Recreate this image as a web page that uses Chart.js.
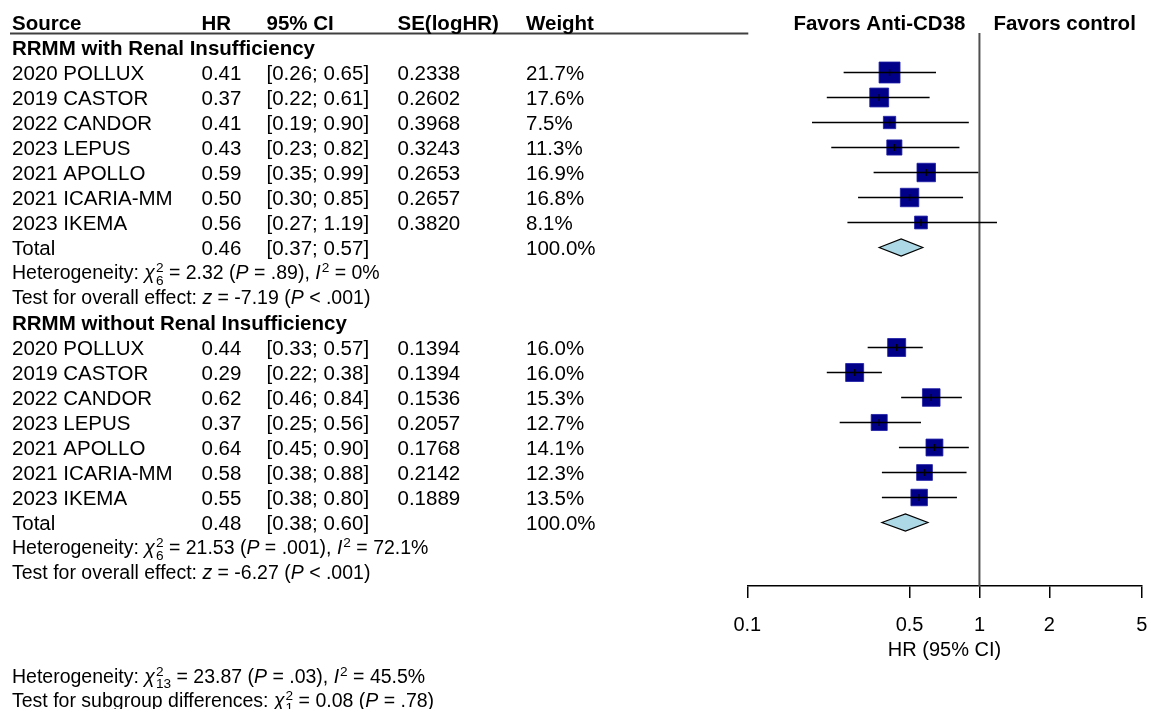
<!DOCTYPE html>
<html>
<head>
<meta charset="utf-8">
<style>
  html, body { margin: 0; padding: 0; background: #ffffff; }
  canvas { display: block; }
</style>
<script src="https://cdn.jsdelivr.net/npm/chart.js"></script>
</head>
<body>
<canvas id="c" width="1149" height="709"></canvas>
<script>
// ---------------- DATA ----------------
const columnHeaders = ['Source', 'HR', '95% CI', 'SE(logHR)', 'Weight'];
const favorLabels = ['Favors Anti-CD38', 'Favors control'];
const groupLabels = ['RRMM with Renal Insufficiency', 'RRMM without Renal Insufficiency'];
const studyNames = ['2020 POLLUX', '2019 CASTOR', '2022 CANDOR', '2023 LEPUS', '2021 APOLLO', '2021 ICARIA-MM', '2023 IKEMA'];

const hrRenal = [0.41, 0.37, 0.41, 0.43, 0.59, 0.50, 0.56];
const loRenal = [0.26, 0.22, 0.19, 0.23, 0.35, 0.30, 0.27];
const hiRenal = [0.65, 0.61, 0.90, 0.82, 0.99, 0.85, 1.19];
const seRenal = [0.2338, 0.2602, 0.3968, 0.3243, 0.2653, 0.2657, 0.3820];
const wRenal  = [21.7, 17.6, 7.5, 11.3, 16.9, 16.8, 8.1];

const hrNoRenal = [0.44, 0.29, 0.62, 0.37, 0.64, 0.58, 0.55];
const loNoRenal = [0.33, 0.22, 0.46, 0.25, 0.45, 0.38, 0.38];
const hiNoRenal = [0.57, 0.38, 0.84, 0.56, 0.90, 0.88, 0.80];
const seNoRenal = [0.1394, 0.1394, 0.1536, 0.2057, 0.1768, 0.2142, 0.1889];
const wNoRenal  = [16.0, 16.0, 15.3, 12.7, 14.1, 12.3, 13.5];

const totalHR = [0.46, 0.48];
const totalLo = [0.37, 0.38];
const totalHi = [0.57, 0.60];
const totalWeight = ['100.0%', '100.0%'];

const hetChi2 = ['2.32', '21.53'];
const hetDf = ['6', '6'];
const hetP = ['.89', '.001'];
const hetI2 = ['0%', '72.1%'];
const zStat = ['-7.19', '-6.27'];
const zP = ['< .001', '< .001'];

const overallChi2 = '23.87', overallDf = '13', overallP = '.03', overallI2 = '45.5%';
const subgroupChi2 = '0.08', subgroupDf = '1', subgroupP = '.78';

const tickVals = [0.1, 0.5, 1, 2, 5];
const tickLabels = ['0.1', '0.5', '1', '2', '5'];
const axisTitle = 'HR (95% CI)';

// ---------------- LAYOUT (rows) ----------------
const groups = [
  { start: 1, hr: hrRenal, lo: loRenal, hi: hiRenal, se: seRenal, w: wRenal },
  { start: 12, hr: hrNoRenal, lo: loNoRenal, hi: hiNoRenal, se: seNoRenal, w: wNoRenal }
];
const FONT = "'Liberation Sans', Arial, Helvetica, sans-serif";
const FS = 20.5;     // table text
const FS_STAT = 19.5; // statistics text
const colX = [12, 201.5, 266.5, 397.5, 526];

const squarePts = [];
const squareRadius = [];
groups.forEach(g => {
  g.hr.forEach((v, i) => {
    squarePts.push({ x: v, y: g.start + 1 + i });
    const side = 4.5 * Math.sqrt(g.w[i]);
    squareRadius.push(side / Math.SQRT2);
  });
});

function fmt2(v) { return v.toFixed(2); }

function drawRich(ctx, x, yBase, segs, fs) {
  const small = fs * 0.7;
  segs.forEach(s => {
    const [t, kind] = s;
    if (kind === 'n' || kind === 'i') {
      ctx.font = (kind === 'i' ? 'italic ' : '') + fs + 'px ' + FONT;
      ctx.fillText(t, x, yBase);
      x += ctx.measureText(t).width;
    } else if (kind === 'sup') {
      ctx.font = small + 'px ' + FONT;
      ctx.fillText(t, x + 1, yBase - fs * 0.36);
      x += ctx.measureText(t).width + 1;
    } else if (kind === 'subsup') {
      ctx.font = small + 'px ' + FONT;
      const [sub, sup] = t;
      ctx.fillText(sub, x + 1, yBase + fs * 0.27);
      ctx.fillText(sup, x + 1, yBase - fs * 0.36);
      x += Math.max(ctx.measureText(sub).width, ctx.measureText(sup).width) + 1;
    }
  });
}

const forestPlugin = {
  id: 'forest',
  beforeDatasetsDraw(chart) {
    const ctx = chart.ctx, xs = chart.scales.x, ys = chart.scales.y;
    ctx.save();
    // reference line at HR = 1
    const xr = xs.getPixelForValue(1);
    ctx.strokeStyle = '#505050';
    ctx.lineWidth = 2;
    ctx.beginPath();
    ctx.moveTo(xr, ys.getPixelForValue(0.42));
    ctx.lineTo(xr, chart.chartArea.bottom);
    ctx.stroke();
    // header underline
    ctx.strokeStyle = '#404040';
    ctx.lineWidth = 1.8;
    ctx.beginPath();
    const yl = ys.getPixelForValue(0.44);
    ctx.moveTo(10, yl);
    ctx.lineTo(xs.left + 1, yl);
    ctx.stroke();
    ctx.restore();
  },
  afterDatasetsDraw(chart) {
    const ctx = chart.ctx, xs = chart.scales.x, ys = chart.scales.y;
    ctx.save();
    ctx.strokeStyle = '#000';
    ctx.lineWidth = 1.3;
    groups.forEach((g, gi) => {
      g.hr.forEach((v, i) => {
        const y = ys.getPixelForValue(g.start + 1 + i);
        const x0 = xs.getPixelForValue(g.lo[i]);
        const x1 = xs.getPixelForValue(g.hi[i]);
        const xc = xs.getPixelForValue(v);
        ctx.beginPath();
        ctx.moveTo(x0, y); ctx.lineTo(x1, y);
        ctx.moveTo(xc, y - 3.5); ctx.lineTo(xc, y + 3.5);
        ctx.stroke();
      });
      // diamond
      const yd = ys.getPixelForValue(g.start + 8);
      const dl = xs.getPixelForValue(totalLo[gi]);
      const dr = xs.getPixelForValue(totalHi[gi]);
      const dc = xs.getPixelForValue(totalHR[gi]);
      ctx.beginPath();
      ctx.moveTo(dl, yd);
      ctx.lineTo(dc, yd - 8.5);
      ctx.lineTo(dr, yd);
      ctx.lineTo(dc, yd + 8.5);
      ctx.closePath();
      ctx.fillStyle = '#ADD8E6';
      ctx.fill();
      ctx.lineWidth = 1.2;
      ctx.stroke();
      ctx.lineWidth = 1.3;
    });
    ctx.restore();
  },
  afterDraw(chart) {
    const ctx = chart.ctx, xs = chart.scales.x, ys = chart.scales.y;
    const base = (row, fs) => ys.getPixelForValue(row) + fs * 0.358;
    ctx.save();
    ctx.fillStyle = '#000';
    ctx.textBaseline = 'alphabetic';
    ctx.textAlign = 'left';
    // header
    ctx.font = 'bold ' + FS + 'px ' + FONT;
    columnHeaders.forEach((h, i) => ctx.fillText(h, colX[i], base(0, FS)));
    const xr = xs.getPixelForValue(1);
    ctx.textAlign = 'right';
    ctx.fillText(favorLabels[0], xr - 14, base(0, FS));
    ctx.textAlign = 'left';
    ctx.fillText(favorLabels[1], xr + 14, base(0, FS));

    groups.forEach((g, gi) => {
      ctx.font = 'bold ' + FS + 'px ' + FONT;
      ctx.fillText(groupLabels[gi], colX[0], base(g.start, FS));
      ctx.font = FS + 'px ' + FONT;
      g.hr.forEach((v, i) => {
        const yb = base(g.start + 1 + i, FS);
        ctx.fillText(studyNames[i], colX[0], yb);
        ctx.fillText(fmt2(v), colX[1], yb);
        ctx.fillText('[' + fmt2(g.lo[i]) + '; ' + fmt2(g.hi[i]) + ']', colX[2], yb);
        ctx.fillText(g.se[i].toFixed(4), colX[3], yb);
        ctx.fillText(g.w[i].toFixed(1) + '%', colX[4], yb);
      });
      const yt = base(g.start + 8, FS);
      ctx.fillText('Total', colX[0], yt);
      ctx.fillText(fmt2(totalHR[gi]), colX[1], yt);
      ctx.fillText('[' + fmt2(totalLo[gi]) + '; ' + fmt2(totalHi[gi]) + ']', colX[2], yt);
      ctx.fillText(totalWeight[gi], colX[4], yt);

      drawRich(ctx, colX[0], base(g.start + 9, FS_STAT), [
        ['Heterogeneity: ', 'n'], ['\u03C7', 'i'], [[hetDf[gi], '2'], 'subsup'],
        [' = ' + hetChi2[gi] + ' (', 'n'], ['P', 'i'], [' = ' + hetP[gi] + '), ', 'n'],
        ['I', 'i'], ['2', 'sup'], [' = ' + hetI2[gi], 'n']
      ], FS_STAT);
      drawRich(ctx, colX[0], base(g.start + 10, FS_STAT), [
        ['Test for overall effect: ', 'n'], ['z', 'i'], [' = ' + zStat[gi] + ' (', 'n'],
        ['P', 'i'], [' ' + zP[gi] + ')', 'n']
      ], FS_STAT);
    });

    drawRich(ctx, colX[0], base(26.15, FS_STAT), [
      ['Heterogeneity: ', 'n'], ['\u03C7', 'i'], [[overallDf, '2'], 'subsup'],
      [' = ' + overallChi2 + ' (', 'n'], ['P', 'i'], [' = ' + overallP + '), ', 'n'],
      ['I', 'i'], ['2', 'sup'], [' = ' + overallI2, 'n']
    ], FS_STAT);
    drawRich(ctx, colX[0], base(27.1, FS_STAT), [
      ['Test for subgroup differences: ', 'n'], ['\u03C7', 'i'], [[subgroupDf, '2'], 'subsup'],
      [' = ' + subgroupChi2 + ' (', 'n'], ['P', 'i'], [' = ' + subgroupP + ')', 'n']
    ], FS_STAT);
    ctx.restore();
  }
};

Chart.defaults.font.family = FONT;
Chart.defaults.color = '#000';

new Chart(document.getElementById('c'), {
  type: 'scatter',
  data: {
    datasets: [{
      data: squarePts,
      pointStyle: 'rect',
      pointRadius: squareRadius,
      pointHoverRadius: squareRadius,
      backgroundColor: '#000088',
      borderColor: '#1c1ca6',
      borderWidth: 0.8,
      clip: false
    }]
  },
  options: {
    responsive: false,
    animation: false,
    events: [],
    layout: { autoPadding: false, padding: { left: 747.3, right: 7.3, top: 0, bottom: 47 } },
    plugins: { legend: { display: false }, tooltip: { enabled: false } },
    scales: {
      x: {
        type: 'logarithmic',
        position: 'bottom',
        min: 0.1,
        max: 5,
        afterBuildTicks: s => { s.ticks = tickVals.map(v => ({ value: v })); },
        ticks: {
          callback: (v) => { const k = tickVals.indexOf(v); return k >= 0 ? tickLabels[k] : ''; },
          font: { size: 20, family: FONT, lineHeight: 2.7 },
          color: '#000',
          padding: 0,
          autoSkip: false,
          maxRotation: 0,
          minRotation: 0
        },
        grid: { display: true, drawOnChartArea: false, drawTicks: true, tickLength: 12, color: '#000', lineWidth: 1.5 },
        border: { display: true, color: '#000', width: 1.5 },
        title: {
          display: true,
          text: axisTitle,
          font: { size: 20, family: FONT, lineHeight: 1.2 },
          color: '#000',
          padding: { top: -14, bottom: 0 }
        }
      },
      y: {
        type: 'linear',
        reverse: true,
        min: -0.9,
        max: 22.54,
        display: false
      }
    }
  },
  plugins: [forestPlugin]
});
</script>
</body>
</html>
